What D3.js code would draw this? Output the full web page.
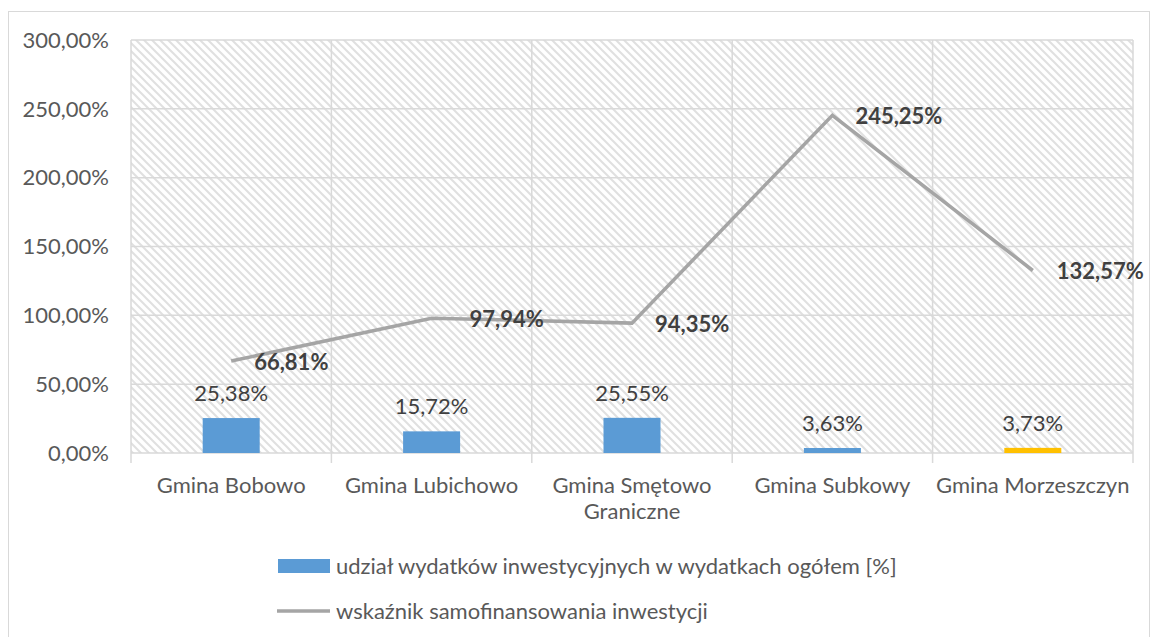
<!DOCTYPE html>
<html>
<head>
<meta charset="utf-8">
<script src="https://cdn.jsdelivr.net/npm/d3@7"></script>
<style>
  body { margin: 0; background: #fff; }
  text { font-family: Lato, "Open Sans", sans-serif; }
</style>
</head>
<body>
<script>
var categories = ["Gmina Bobowo", "Gmina Lubichowo", "Gmina Smętowo Graniczne", "Gmina Subkowy", "Gmina Morzeszczyn"];
var udzial = [25.38, 15.72, 25.55, 3.63, 3.73];
var wskaznik = [66.81, 97.94, 94.35, 245.25, 132.57];
var yTicks = [0, 50, 100, 150, 200, 250, 300];
var seriesNames = ["udział wydatków inwestycyjnych w wydatkach ogółem [%]", "wskaźnik samofinansowania inwestycji"];

// label offsets for the line labels (as placed in the original)
var lineLabelDx = [23, 38, 23, 23, 24];

var W = 1151, H = 637;
var pLeft = 131, pRight = 1133, pTop = 40, pBottom = 453;
var fs = 22;

var svg = d3.select("body").append("svg")
  .attr("width", W)
  .attr("height", H);

var defs = svg.append("defs");
var pat = defs.append("pattern")
  .attr("id", "hatch")
  .attr("patternUnits", "userSpaceOnUse")
  .attr("width", 8)
  .attr("height", 8);
pat.append("rect").attr("width", 8).attr("height", 8).attr("fill", "#fff");
pat.append("path")
  .attr("d", "M-2,-2 L10,10 M-2,6 L2,10 M6,-2 L10,2")
  .attr("stroke", "#e0e0e0")
  .attr("stroke-width", 2);

// outer frame
svg.append("rect")
  .attr("x", 8.5).attr("y", 11.5)
  .attr("width", 1141).attr("height", 640)
  .attr("fill", "none")
  .attr("stroke", "#d9d9d9");

var x = d3.scaleBand().domain(categories).range([pLeft, pRight]);
var y = d3.scaleLinear().domain([0, 300]).range([pBottom, pTop]);

svg.append("rect")
  .attr("x", pLeft).attr("y", pTop)
  .attr("width", pRight - pLeft).attr("height", pBottom - pTop)
  .attr("fill", "url(#hatch)");

// horizontal grid
svg.selectAll(".hgrid").data(yTicks).enter().append("line")
  .attr("x1", pLeft).attr("x2", pRight)
  .attr("y1", function(d) { return y(d); })
  .attr("y2", function(d) { return y(d); })
  .attr("stroke", "#d9d9d9")
  .attr("stroke-width", 1.5);

// vertical grid / category separators, with ticks below axis
var seps = [pLeft].concat(categories.map(function(c) { return x(c) + x.bandwidth(); }));
svg.selectAll(".vgrid").data(seps).enter().append("line")
  .attr("x1", function(d) { return d; })
  .attr("x2", function(d) { return d; })
  .attr("y1", pTop).attr("y2", pBottom + 10)
  .attr("stroke", "#d9d9d9")
  .attr("stroke-width", 1.5);

function pct(d) { return d3.format(".2f")(d).replace(".", ",") + "%"; }

// y labels
svg.selectAll(".ylab").data(yTicks).enter().append("text")
  .attr("x", 109)
  .attr("y", function(d) { return y(d); })
  .attr("dy", "0.35em")
  .attr("text-anchor", "end")
  .attr("font-size", fs)
  .attr("fill", "#595959")
  .text(pct);

// x labels
var xl = svg.selectAll(".xlab").data(categories).enter().append("text")
  .attr("x", function(d) { return x(d) + x.bandwidth() / 2; })
  .attr("y", 493)
  .attr("text-anchor", "middle")
  .attr("font-size", fs)
  .attr("fill", "#595959");
xl.each(function(d) {
  var t = d3.select(this);
  var parts = d === "Gmina Smętowo Graniczne" ? ["Gmina Smętowo", "Graniczne"] : [d];
  parts.forEach(function(p, i) {
    t.append("tspan")
      .attr("x", x(d) + x.bandwidth() / 2)
      .attr("dy", i === 0 ? 0 : 26)
      .text(p);
  });
});

// bars
var bw = 57;
svg.selectAll(".bar").data(udzial).enter().append("rect")
  .attr("x", function(d, i) { return x(categories[i]) + x.bandwidth() / 2 - bw / 2; })
  .attr("y", function(d) { return y(d); })
  .attr("width", bw)
  .attr("height", function(d) { return pBottom - y(d); })
  .attr("fill", function(d, i) { return i === 4 ? "#ffc000" : "#5b9bd5"; });

svg.selectAll(".barlab").data(udzial).enter().append("text")
  .attr("x", function(d, i) { return x(categories[i]) + x.bandwidth() / 2; })
  .attr("y", function(d) { return y(d) - 17; })
  .attr("text-anchor", "middle")
  .attr("font-size", fs)
  .attr("fill", "#404040")
  .text(pct);

// line
var line = d3.line()
  .x(function(d, i) { return x(categories[i]) + x.bandwidth() / 2; })
  .y(function(d) { return y(d); });

svg.append("path")
  .datum(wskaznik)
  .attr("d", line)
  .attr("fill", "none")
  .attr("stroke", "#a5a5a5")
  .attr("stroke-width", 3.5);

svg.selectAll(".linelab").data(wskaznik).enter().append("text")
  .attr("x", function(d, i) { return x(categories[i]) + x.bandwidth() / 2 + lineLabelDx[i]; })
  .attr("y", function(d) { return y(d) + 1; })
  .attr("dy", "0.35em")
  .attr("font-size", fs)
  .attr("font-weight", "bold")
  .attr("fill", "#404040")
  .text(pct);

// legend
var lg = svg.append("g");
lg.append("rect")
  .attr("x", 278).attr("y", 559)
  .attr("width", 52).attr("height", 14)
  .attr("fill", "#5b9bd5");
lg.append("line")
  .attr("x1", 277).attr("x2", 330)
  .attr("y1", 611).attr("y2", 611)
  .attr("stroke", "#a5a5a5")
  .attr("stroke-width", 3.5);
lg.selectAll("text").data(seriesNames).enter().append("text")
  .attr("x", 336)
  .attr("y", function(d, i) { return 566 + i * 45; })
  .attr("dy", "0.35em")
  .attr("font-size", fs)
  .attr("fill", "#595959")
  .text(function(d) { return d; });
</script>
</body>
</html>
